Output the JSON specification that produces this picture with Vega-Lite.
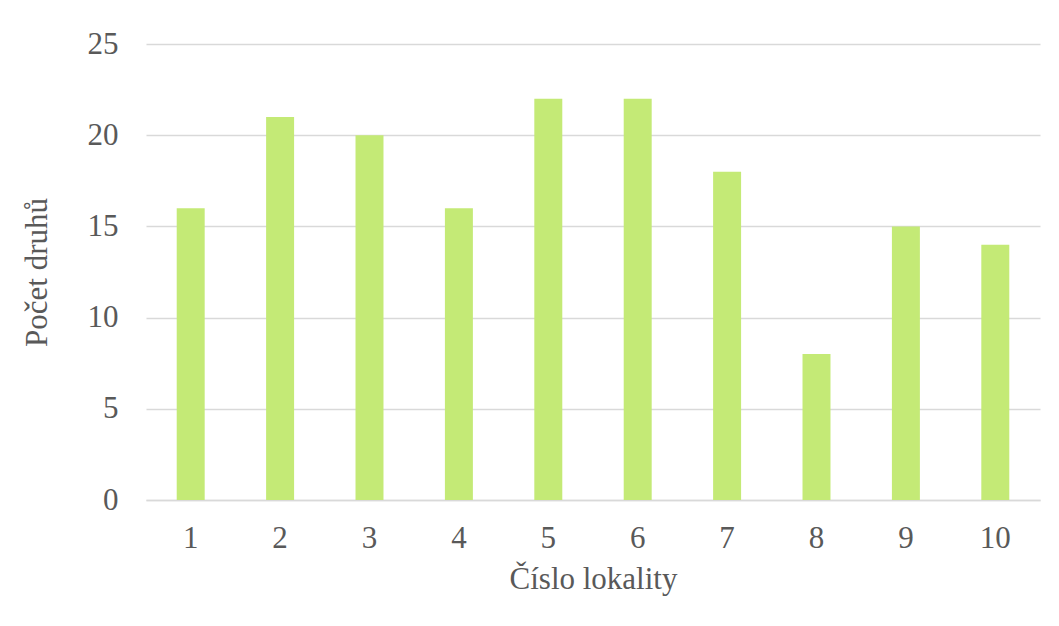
{
  "$schema": "https://vega.github.io/schema/vega-lite/v6.json",
  "autosize": {"type": "none"},
  "width": 894,
  "height": 456,
  "padding": {"left": 146, "top": 44, "right": 19, "bottom": 126},
  "background": "white",
  "config": {
    "view": {"stroke": null},
    "font": "Liberation Serif",
    "axis": {
      "labelFont": "Liberation Serif",
      "titleFont": "Liberation Serif",
      "labelColor": "#595959",
      "titleColor": "#595959",
      "labelFontSize": 31,
      "titleFontSize": 31,
      "titleFontWeight": "normal",
      "gridColor": "#d9d9d9",
      "gridWidth": 1.3,
      "domainColor": "#d9d9d9",
      "ticks": false
    }
  },
  "data": {
    "values": [
      {"lokalita": "1", "pocet": 16},
      {"lokalita": "2", "pocet": 21},
      {"lokalita": "3", "pocet": 20},
      {"lokalita": "4", "pocet": 16},
      {"lokalita": "5", "pocet": 22},
      {"lokalita": "6", "pocet": 22},
      {"lokalita": "7", "pocet": 18},
      {"lokalita": "8", "pocet": 8},
      {"lokalita": "9", "pocet": 15},
      {"lokalita": "10", "pocet": 14}
    ]
  },
  "mark": {"type": "bar", "color": "#c4ea76"},
  "encoding": {
    "x": {
      "field": "lokalita",
      "type": "ordinal",
      "sort": null,
      "scale": {"paddingInner": 0.687, "paddingOuter": 0.3435},
      "axis": {
        "title": "Číslo lokality",
        "labelAngle": 0,
        "labelPadding": 23,
        "titlePadding": 11,
        "domainWidth": 1.3
      }
    },
    "y": {
      "field": "pocet",
      "type": "quantitative",
      "scale": {"domain": [0, 25], "nice": false},
      "axis": {
        "title": "Počet druhů",
        "values": [0, 5, 10, 15, 20, 25],
        "domain": false,
        "labelPadding": 28,
        "titlePadding": 34
      }
    }
  }
}
